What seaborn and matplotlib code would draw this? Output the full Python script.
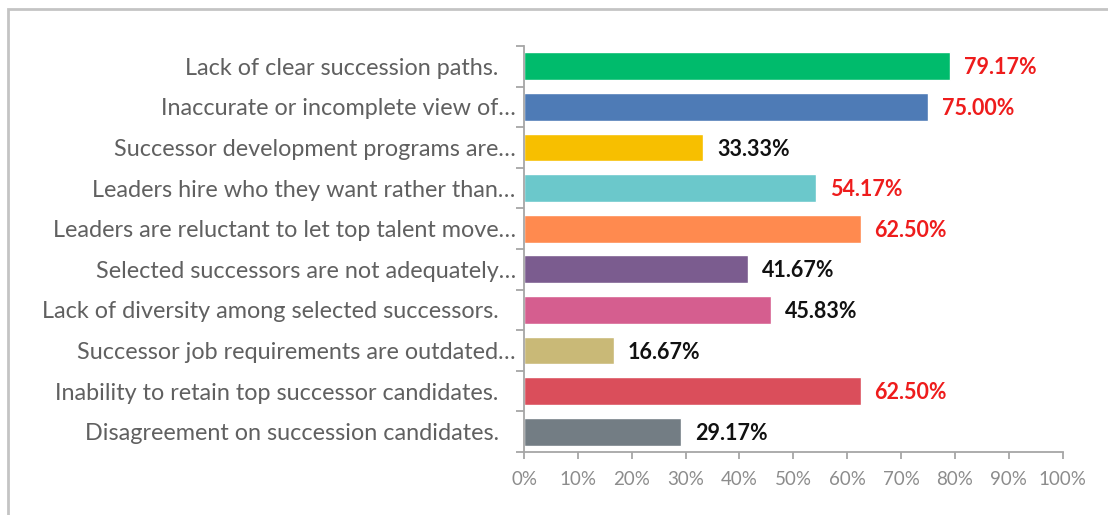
import matplotlib
matplotlib.use("Agg")
import matplotlib.pyplot as plt
import matplotlib.transforms as mtransforms
from matplotlib.patches import Rectangle
from matplotlib.ticker import FixedLocator, PercentFormatter
import pandas as pd
import seaborn as sns

categories = [
    "Lack of clear succession paths.",
    "Inaccurate or incomplete view of…",
    "Successor development programs are…",
    "Leaders hire who they want rather than…",
    "Leaders are reluctant to let top talent move…",
    "Selected successors are not adequately…",
    "Lack of diversity among selected successors.",
    "Successor job requirements are outdated…",
    "Inability to retain top successor candidates.",
    "Disagreement on succession candidates.",
]
values = [79.17, 75.00, 33.33, 54.17, 62.50, 41.67, 45.83, 16.67, 62.50, 29.17]
bar_colors = [
    "#00BB6C", "#4E7BB6", "#F7BF00", "#6BC8CB", "#FF8A4F",
    "#7B5C8F", "#D55E8F", "#C9B977", "#DA4E5B", "#737D84",
]
x_ticks = list(range(0, 101, 10))

df = pd.DataFrame({"issue": categories, "pct": values})

sns.set_theme(style="white")
plt.rcParams["font.family"] = ["Lato", "DejaVu Sans"]

W, H = 1108, 515
fig = plt.figure(figsize=(W / 100, H / 100), dpi=100)
ax = fig.add_axes([524 / W, 1 - 452 / H, (1062.5 - 524) / W, (452 - 46) / H])

sns.barplot(
    data=df, x="pct", y="issue", hue="issue", palette=bar_colors,
    orient="h", width=0.68, legend=False, saturation=1, ax=ax,
)

ax.set_xlim(0, 100)
ax.set_ylim(len(categories) - 0.5, -0.5)
ax.set_xlabel("")
ax.set_ylabel("")

ax.xaxis.set_major_locator(FixedLocator(x_ticks))
ax.xaxis.set_major_formatter(PercentFormatter(decimals=0))
ax.tick_params(axis="x", which="major", bottom=True, length=5, width=1.3,
               color="#A6A6A6", labelcolor="#8C8C8C", labelsize=13.5, pad=9)

# category separators as outward ticks on the y-axis
ax.yaxis.set_minor_locator(FixedLocator([i - 0.5 for i in range(len(categories) + 1)]))
ax.tick_params(axis="y", which="minor", left=True, length=6, width=1.3, color="#A6A6A6")
ax.tick_params(axis="y", which="major", left=False, labelcolor="#606060",
               labelsize=16.8, pad=0)

# labels that are not truncated sit a little further from the axis
for lbl in ax.get_yticklabels():
    if not lbl.get_text().endswith("…"):
        lbl.set_transform(lbl.get_transform() +
                          mtransforms.ScaledTranslation(-17 / 100, 0, fig.dpi_scale_trans))

for side in ("top", "right"):
    ax.spines[side].set_visible(False)
for side in ("left", "bottom"):
    ax.spines[side].set_color("#A6A6A6")
    ax.spines[side].set_linewidth(1.3)

for i, v in enumerate(values):
    ax.text(v + 2.6, i + 0.04, f"{v:.2f}%", va="center", ha="left",
            fontsize=15.5, fontweight="bold",
            color="#EE1C1C" if v > 50 else "#111111")

# thin frame along the top and left of the figure
fig.add_artist(Rectangle((8 / W, -0.1), 1.2, 1 - 9 / H + 0.1,
                         transform=fig.transFigure, fill=False,
                         edgecolor="#C4C4C4", linewidth=2))

fig.savefig("out.png", dpi=100)
